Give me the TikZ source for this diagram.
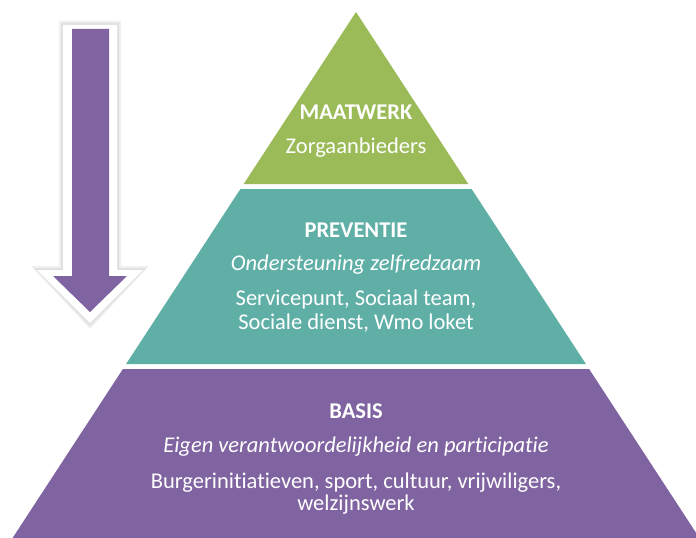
\documentclass[tikz,border=0pt]{standalone}
\usepackage{fontspec}
\setmainfont{Carlito}[Ligatures=NoCommon]
\usepackage{xcolor}
\definecolor{tiergreen}{HTML}{9BBB59}
\definecolor{tierteal}{HTML}{5FAFA6}
\definecolor{tierpurple}{HTML}{8064A2}
\usetikzlibrary{positioning}

\begin{document}
\begin{tikzpicture}[x=0.025cm,y=-0.025cm,
  tiertext/.style={text=white,anchor=base,inner sep=0pt,font=\fontsize{16}{19}\selectfont},
  tiertitle/.style={tiertext,font=\fontsize{16}{19}\selectfont\bfseries},
  tiersub/.style={tiertext,font=\fontsize{16}{19}\selectfont\itshape}]
  \useasboundingbox (0,0) rectangle (696,538);
  \clip (0,0) rectangle (696,538);
  % Top tier
  \fill[tiergreen] (356,12) -- (468.3,184) -- (243.7,184) -- cycle;
  % Middle tier
  \fill[tierteal] (240.4,189) -- (471.6,189) -- (585.9,364) -- (126.1,364) -- cycle;
  % Bottom tier
  \fill[tierpurple] (122.9,369) -- (589.1,369) -- (704,545) -- (8,545) -- cycle;
  % Arrow: soft shadow, white rim, purple body
  \fill[black!6] (59,21) -- (121,21) -- (121,266) -- (149,266) -- (90,329) -- (31,266) -- (59,266) -- cycle;
  \fill[black!12] (61,23) -- (119,23) -- (119,268) -- (146,268) -- (90,326) -- (34,268) -- (61,268) -- cycle;
  \fill[white] (63,25) -- (117,25) -- (117,270) -- (143,270) -- (90,323) -- (37,270) -- (63,270) -- cycle;
  \fill[tierpurple] (72,29) -- (109,29) -- (109,276) -- (127,276) -- (90,312) -- (53,276) -- (72,276) -- cycle;
  % Labels
  \node[tiertitle] (maat) at (356,120) {MAATWERK};
  \node[tiertext] (maatsub) at (356,154) {Zorgaanbieders};
  \node[tiertitle] (prev) at (356,237) {PREVENTIE};
  \node[tiersub] (prevsub) at (356,270) {Ondersteuning zelfredzaam};
  \node[tiertext] (prevlist) at (356,305) {Servicepunt, Sociaal team,};
  \node[tiertext] (prevlistb) at (356,329) {Sociale dienst, Wmo loket};
  \node[tiertitle] (basis) at (356,418) {BASIS};
  \node[tiersub] (basissub) at (356,452) {Eigen verantwoordelijkheid en participatie};
  \node[tiertext] (basislist) at (356,488) {Burgerinitiatieven, sport, cultuur, vrijwiligers,};
  \node[tiertext] (basislistb) at (356,510) {welzijnswerk};
\end{tikzpicture}
\end{document}
